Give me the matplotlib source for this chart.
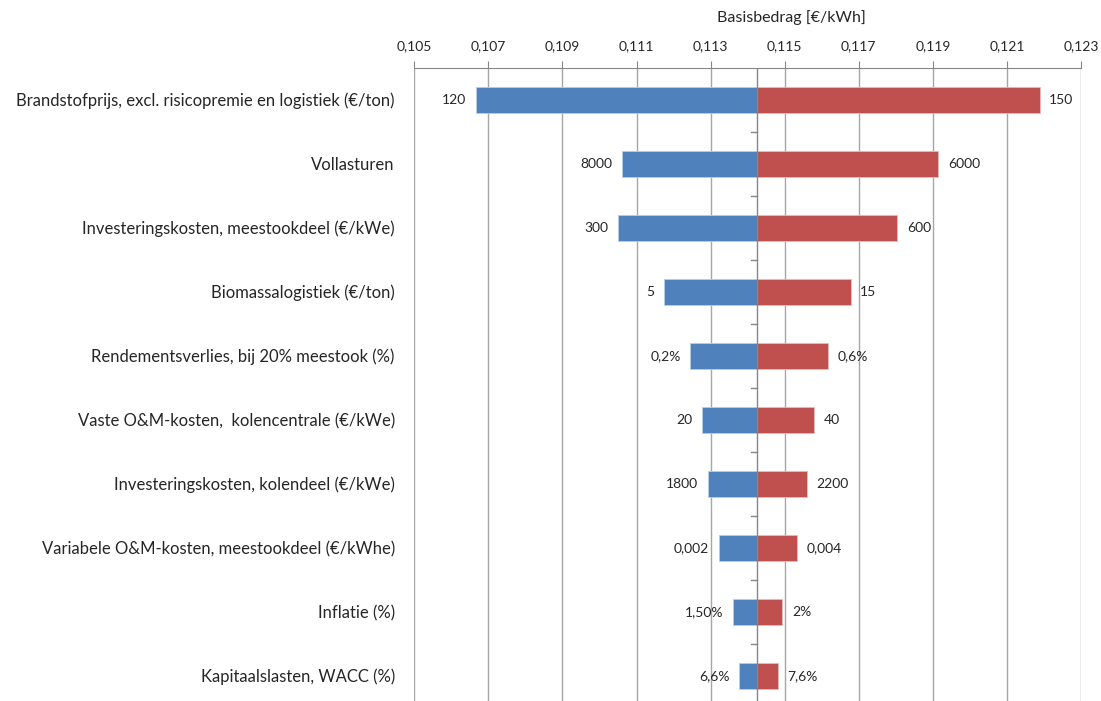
import numpy as np
import matplotlib
matplotlib.use("Agg")
import matplotlib.pyplot as plt

plt.rcParams['font.family'] = ['Lato', 'DejaVu Sans']

# tornado data: cost per kWh at low / high parameter value
categories = [
    "Brandstofprijs, excl. risicopremie en logistiek (€/ton)",
    "Vollasturen",
    "Investeringskosten, meestookdeel (€/kWe)",
    "Biomassalogistiek (€/ton)",
    "Rendementsverlies, bij 20% meestook (%)",
    "Vaste O&M-kosten,  kolencentrale (€/kWe)",
    "Investeringskosten, kolendeel (€/kWe)",
    "Variabele O&M-kosten, meestookdeel (€/kWhe)",
    "Inflatie (%)",
    "Kapitaalslasten, WACC (%)",
]
base = 0.11426
low_cost = [0.10666, 0.11062, 0.11049, 0.11175, 0.11245, 0.11277, 0.11293, 0.11322, 0.11361, 0.11377]
high_cost = [0.12188, 0.11914, 0.11804, 0.11678, 0.11616, 0.11579, 0.11560, 0.11532, 0.11493, 0.11481]
low_labels = ["120", "8000", "300", "5", "0,2%", "20", "1800", "0,002", "1,50%", "6,6%"]
high_labels = ["150", "6000", "600", "15", "0,6%", "40", "2200", "0,004", "2%", "7,6%"]
xticks = np.arange(0.105, 0.1231, 0.002)

W, H = 1101, 701
fig = plt.figure(figsize=(W / 100, H / 100), dpi=100)
ax = fig.add_axes([414.3 / W, 1 - 707.7 / H, 666.7 / W, 640 / H])

y = np.arange(len(categories))
low = np.array(low_cost)
high = np.array(high_cost)
ax.barh(y, low - base, left=base, height=0.4, color='#4F81BD', edgecolor='#B9CDE5', linewidth=0.6, zorder=3)
ax.barh(y, high - base, left=base, height=0.4, color='#C0504D', edgecolor='#E6B9B8', linewidth=0.6, zorder=3)

for i in range(len(categories)):
    ax.annotate(low_labels[i], (low[i], y[i]), xytext=(-7, 0), textcoords='offset points',
                ha='right', va='center', fontsize=10, color='#262626')
    ax.annotate(high_labels[i], (high[i], y[i]), xytext=(7, 0), textcoords='offset points',
                ha='left', va='center', fontsize=10, color='#262626')

# center axis with category tick marks
ax.axvline(base, color='#868686', lw=1, zorder=4)
for b in np.arange(0.5, len(categories) - 0.5, 1):
    ax.plot([base - 0.00018, base], [b, b], color='#868686', lw=1, zorder=4)

ax.set_xlim(0.105, 0.123)
ax.set_ylim(len(categories) - 0.5, -0.5)
ax.xaxis.tick_top()
ax.set_xticks(xticks)
ax.set_xticklabels([f"{t:.3f}".replace('.', ',') for t in xticks], fontsize=10, color='#262626')
ax.tick_params(axis='x', length=5, color='#868686', pad=6)
ax.set_yticks(y)
ax.set_yticklabels(categories, fontsize=12, color='#262626')
ax.tick_params(axis='y', length=0, pad=14)
ax.grid(axis='x', color='#A6A6A6', lw=1, zorder=0)
for s in ['left', 'right', 'bottom']:
    ax.spines[s].set_visible(False)
ax.spines['top'].set_color('#868686')

fig.text(791 / W, 1 - 18 / H, "Basisbedrag [€/kWh]", ha='center', va='center', fontsize=11.5, color='#262626')

fig.savefig("out.png", dpi=100)
